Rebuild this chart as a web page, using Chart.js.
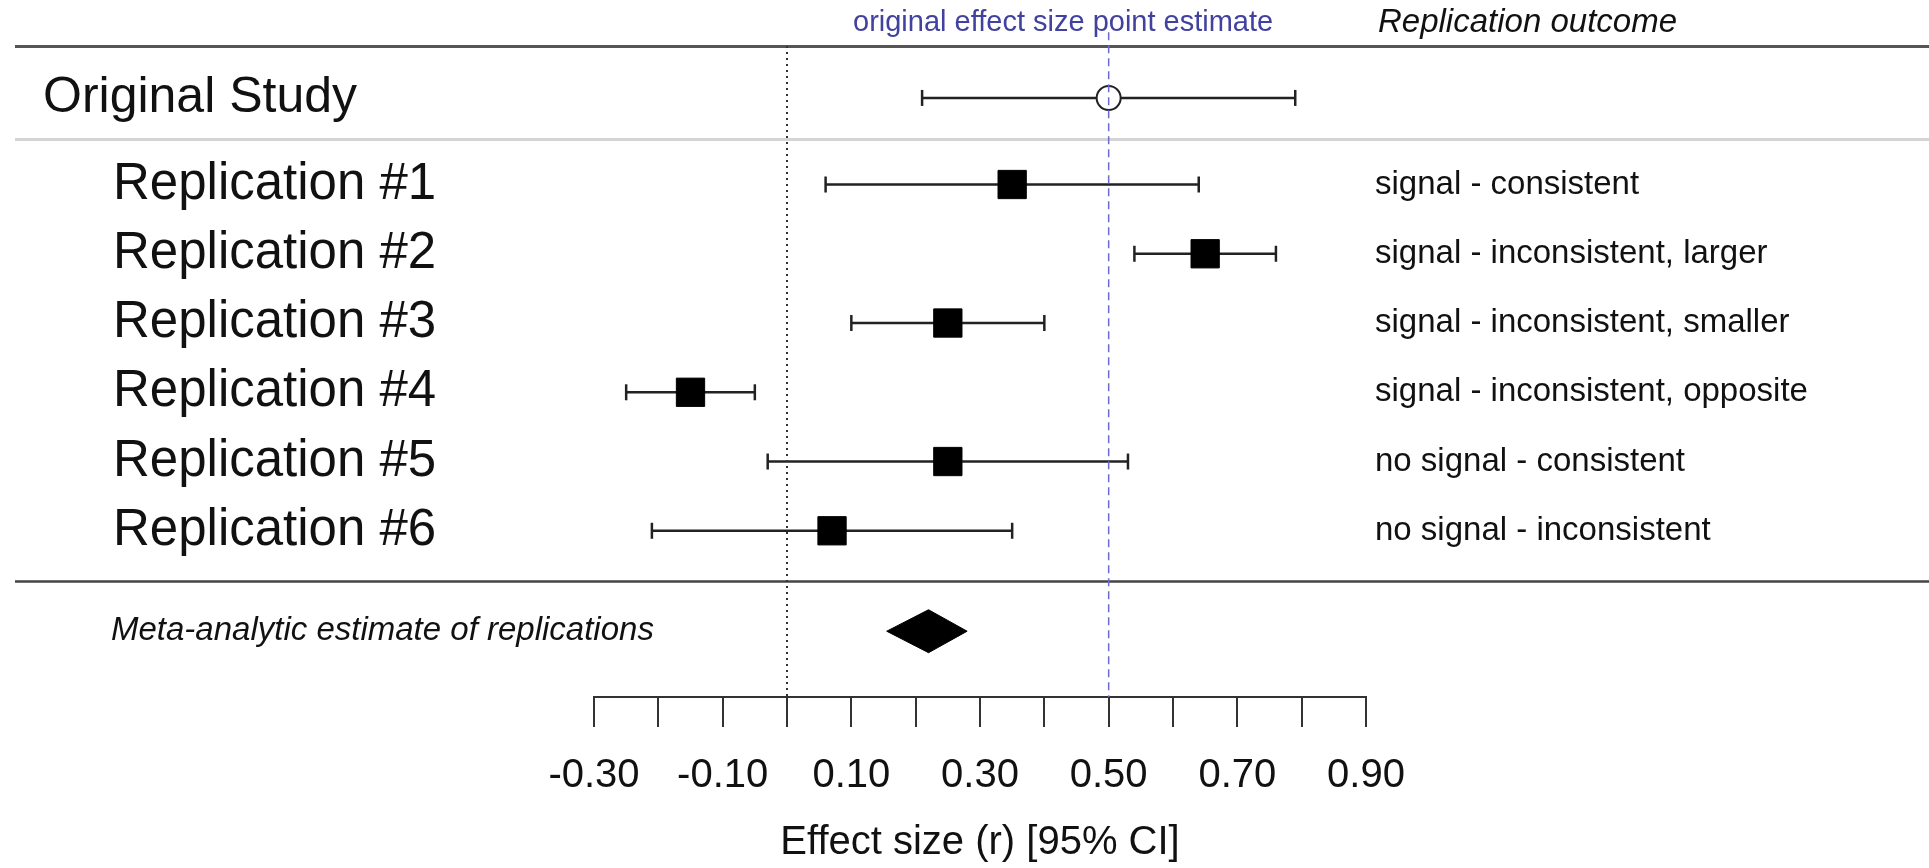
<!DOCTYPE html>
<html>
<head>
<meta charset="utf-8">
<title>Replication forest plot</title>
<script src="https://cdn.jsdelivr.net/npm/chart.js@4.4.1/dist/chart.umd.min.js"></script>
<style>
  html, body { margin: 0; padding: 0; background: #fff; }
  #wrap { width: 1929px; height: 868px; position: relative; }
</style>
</head>
<body>
<div id="wrap"><canvas id="forest"></canvas></div>
<script>
// --- data ---
const studies = ['Original Study', 'Replication #1', 'Replication #2', 'Replication #3',
                 'Replication #4', 'Replication #5', 'Replication #6'];
const estimates = [0.50, 0.35, 0.65, 0.25, -0.15, 0.25, 0.07];
const ciLower   = [0.21, 0.06, 0.54, 0.10, -0.25, -0.03, -0.21];
const ciUpper   = [0.79, 0.64, 0.76, 0.40, -0.05, 0.53, 0.35];
const outcomes  = ['', 'signal - consistent', 'signal - inconsistent, larger',
                   'signal - inconsistent, smaller', 'signal - inconsistent, opposite',
                   'no signal - consistent', 'no signal - inconsistent'];
const metaLabel = 'Meta-analytic estimate of replications';
const metaEstimate = [0.22];
const metaLower = [0.155];
const metaUpper = [0.28];
const xTickLabels = ['-0.30', '-0.10', '0.10', '0.30', '0.50', '0.70', '0.90'];
const nullEffect = 0;
const originalEffect = estimates[0];

// --- layout (row units on the hidden y axis, top = 0) ---
const ROWS = [0.75, 2, 3, 4, 5, 6, 7];
const META_ROW = 8.45;
const Y_MAX = 9.4;
const LINE_AFTER_ORIGINAL = 1.34;
const LINE_AFTER_REPS = 7.72;
const DIAMOND_HALF = 0.31;

const FONT = "'Liberation Sans', Arial, Helvetica, sans-serif";
const BLUE_TEXT = '#41419f';
const BLUE_LINE = '#6a6ad0';

const datasets = [];

// confidence interval whiskers, one dataset per study
studies.forEach((s, i) => {
  datasets.push({
    label: s + ' CI',
    data: [{x: ciLower[i], y: ROWS[i]}, {x: ciUpper[i], y: ROWS[i]}],
    borderColor: '#222',
    borderWidth: 2.5,
    pointStyle: 'line',
    pointRotation: 90,
    pointRadius: 8,
    pointBorderWidth: 2.5,
    pointBorderColor: '#222',
    order: 5
  });
});

// original study: open circle
datasets.push({
  label: 'Original estimate',
  data: [{x: estimates[0], y: ROWS[0]}],
  showLine: false,
  pointStyle: 'circle',
  pointRadius: 12,
  pointBackgroundColor: '#fff',
  pointBorderColor: '#222',
  pointBorderWidth: 2,
  order: 4
});

// reference lines: null effect (dotted) and original estimate (blue dashed)
datasets.push({
  label: 'null',
  data: [{x: nullEffect, y: 0}, {x: nullEffect, y: Y_MAX}],
  borderColor: '#333',
  borderWidth: 2,
  borderDash: [2, 4],
  pointRadius: 0,
  order: 3
});
datasets.push({
  label: 'original effect',
  data: [{x: originalEffect, y: -0.2}, {x: originalEffect, y: Y_MAX}],
  borderColor: BLUE_LINE,
  borderWidth: 1.5,
  borderDash: [8, 5],
  pointRadius: 0,
  clip: false,
  order: 3
});

// replication point estimates: filled squares
datasets.push({
  label: 'Replications',
  data: estimates.slice(1).map((v, i) => ({x: v, y: ROWS[i + 1]})),
  showLine: false,
  pointStyle: 'rect',
  pointRadius: 20,
  pointBackgroundColor: '#000',
  pointBorderColor: '#000',
  pointBorderWidth: 1,
  order: 1
});

// meta-analytic diamond
datasets.push({
  label: 'Meta',
  data: [
    {x: metaLower[0], y: META_ROW},
    {x: metaEstimate[0], y: META_ROW - DIAMOND_HALF},
    {x: metaUpper[0], y: META_ROW},
    {x: metaEstimate[0], y: META_ROW + DIAMOND_HALF},
    {x: metaLower[0], y: META_ROW}
  ],
  borderColor: '#000',
  borderWidth: 1,
  backgroundColor: '#000',
  fill: 'shape',
  pointRadius: 0,
  order: 1
});

// rules and text around the plot
const decorations = {
  id: 'decorations',
  beforeDatasetsDraw(chart) {
    const ctx = chart.ctx;
    const y = chart.scales.y;
    ctx.save();
    const rule = (row, color, width) => {
      const py = Math.round(y.getPixelForValue(row)) + 0.5;
      ctx.strokeStyle = color;
      ctx.lineWidth = width;
      ctx.beginPath();
      ctx.moveTo(15, py);
      ctx.lineTo(chart.width, py);
      ctx.stroke();
    };
    rule(0, '#555', 3);
    rule(LINE_AFTER_ORIGINAL, '#d4d4d4', 3);
    rule(LINE_AFTER_REPS, '#444', 2.5);
    ctx.restore();
  },
  afterDraw(chart) {
    const ctx = chart.ctx;
    const y = chart.scales.y;
    ctx.save();
    ctx.textBaseline = 'middle';
    ctx.textAlign = 'left';
    ctx.fillStyle = '#111';

    studies.forEach((s, i) => {
      ctx.font = (i === 0 ? '50px ' : '51px ') + FONT;
      ctx.fillText(s, i === 0 ? 43 : 113, y.getPixelForValue(ROWS[i]));
      if (outcomes[i]) {
        ctx.font = '33px ' + FONT;
        ctx.fillText(outcomes[i], 1375, y.getPixelForValue(ROWS[i]));
      }
    });

    ctx.font = 'italic 33px ' + FONT;
    ctx.fillText(metaLabel, 111, y.getPixelForValue(META_ROW));

    ctx.font = '29px ' + FONT;
    ctx.fillStyle = BLUE_TEXT;
    ctx.fillText('original effect size point estimate', 853, 23);
    ctx.font = 'italic 33px ' + FONT;
    ctx.fillStyle = '#111';
    ctx.fillText('Replication outcome', 1378, 23);
    ctx.restore();
  }
};

new Chart(document.getElementById('forest'), {
  type: 'line',
  data: { datasets },
  options: {
    responsive: true,
    maintainAspectRatio: false,
    animation: false,
    layout: { padding: { left: 594, right: 563, top: 46, bottom: 5 } },
    plugins: {
      legend: { display: false },
      tooltip: { enabled: false }
    },
    scales: {
      x: {
        type: 'linear',
        min: -0.3,
        max: 0.9,
        ticks: {
          stepSize: 0.1,
          padding: 29,
          color: '#111',
          font: { family: FONT, size: 40, lineHeight: 1 },
          maxRotation: 0,
          autoSkip: false,
          callback: (v) => {
            const s = v.toFixed(2);
            return xTickLabels.includes(s) ? s : '';
          }
        },
        grid: {
          drawOnChartArea: false,
          drawTicks: true,
          tickLength: 30,
          color: '#333',
          lineWidth: 2
        },
        border: { display: true, color: '#333', width: 2 },
        title: {
          display: true,
          text: 'Effect size (r) [95% CI]',
          color: '#111',
          font: { family: FONT, size: 40, lineHeight: 1 },
          padding: { top: -2, bottom: 0 }
        }
      },
      y: {
        type: 'linear',
        display: false,
        reverse: true,
        min: 0,
        max: Y_MAX
      }
    }
  },
  plugins: [decorations]
});
</script>
</body>
</html>
